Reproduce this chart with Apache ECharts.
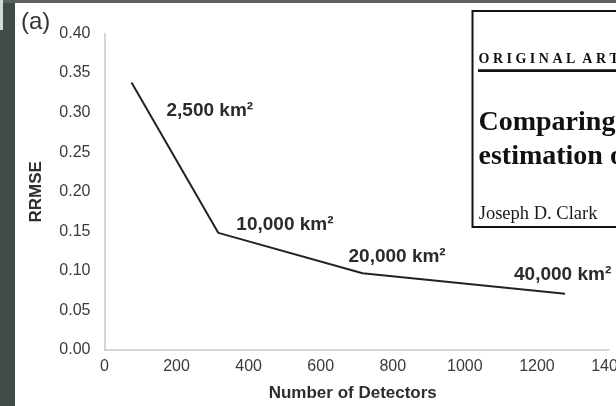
<!DOCTYPE html>
<html>
<head>
<meta charset="utf-8">
<script src="https://cdn.jsdelivr.net/npm/echarts@6/dist/echarts.min.js"></script>
<style>
  html, body { margin: 0; padding: 0; background: #ffffff; }
  #chart { width: 616px; height: 406px; }
</style>
</head>
<body>
<div id="chart"></div>
<script>
// Study-area sizes, detector counts and resulting RRMSE
const areaLabels = ['2,500 km²', '10,000 km²', '20,000 km²', '40,000 km²'];
const detectors = [75, 316, 716, 1278];
const rrmse = [0.338, 0.148, 0.097, 0.071];
const xTicks = [0, 200, 400, 600, 800, 1000, 1200, 1400];
const yTicks = [0, 0.05, 0.1, 0.15, 0.2, 0.25, 0.3, 0.35, 0.4];

// Where each area label sits relative to its point (px)
const labelOffsets = [[35, 28], [18, -8], [-14, -16], [-51, -19]];

const sansFont = '"Liberation Sans", Arial, sans-serif';
const serifFont = '"Liberation Serif", "Times New Roman", serif';

const linePoints = detectors.map((d, i) => [d, rrmse[i]]);
const labelPoints = detectors.map((d, i) => ({
  value: [d, rrmse[i]],
  name: areaLabels[i],
  label: { offset: labelOffsets[i] }
}));

const chart = echarts.init(document.getElementById('chart'), null, { renderer: 'canvas' });

chart.setOption({
  animation: false,
  backgroundColor: '#ffffff',
  grid: {
    left: 104.5, right: 7, top: 33.5, bottom: 56,
    containLabel: false,
    outerBoundsMode: 'none'
  },
  xAxis: {
    type: 'value',
    min: xTicks[0],
    max: xTicks[xTicks.length - 1],
    interval: xTicks[1] - xTicks[0],
    name: 'Number of Detectors',
    nameLocation: 'middle',
    nameGap: 35,
    nameTextStyle: {
      fontFamily: sansFont, fontSize: 17, fontWeight: 'bold', color: '#2e2e2e',
      padding: [0, 8, 0, 0]
    },
    axisLine: { show: true, lineStyle: { color: '#c9c9c9', width: 1.5 } },
    axisTick: { show: false },
    splitLine: { show: false },
    axisLabel: {
      margin: 9,
      fontFamily: sansFont, fontSize: 16, color: '#3a3a3a',
      showMaxLabel: true,
      hideOverlap: false,
      formatter: v => String(v)
    }
  },
  yAxis: {
    type: 'value',
    min: yTicks[0],
    max: yTicks[yTicks.length - 1],
    interval: yTicks[1] - yTicks[0],
    name: 'RRMSE',
    nameLocation: 'middle',
    nameRotate: 90,
    nameGap: 60,
    nameTextStyle: { fontFamily: sansFont, fontSize: 17, fontWeight: 'bold', color: '#2e2e2e' },
    axisLine: { show: true, lineStyle: { color: '#c9c9c9', width: 1.5 } },
    axisTick: { show: false },
    splitLine: { show: false },
    axisLabel: {
      margin: 14,
      fontFamily: sansFont, fontSize: 16, color: '#3a3a3a',
      formatter: v => v.toFixed(2)
    }
  },
  series: [
    {
      type: 'line',
      data: linePoints,
      symbol: 'none',
      lineStyle: { color: '#222222', width: 2 },
      z: 3
    },
    {
      type: 'scatter',
      data: labelPoints,
      symbolSize: 0,
      itemStyle: { color: '#222222' },
      label: {
        show: true,
        position: 'inside',
        align: 'left',
        verticalAlign: 'middle',
        formatter: p => p.name,
        fontFamily: sansFont,
        fontSize: 19,
        fontWeight: 'bold',
        color: '#2b2b2b',
        textBorderWidth: 0,
        opacity: 1
      },
      z: 4
    }
  ],
  graphic: [
    // dark surround
    { type: 'rect', shape: { x: 0, y: 0, width: 15, height: 406 }, style: { fill: '#3f4a49' }, z: 100 },
    { type: 'rect', shape: { x: 0, y: 0, width: 616, height: 3 }, style: { fill: '#59625f' }, z: 100 },
    { type: 'rect', shape: { x: 0, y: 0, width: 3, height: 30 }, style: { fill: '#d6d8d7' }, z: 101 },
    // "(a)" panel tag
    {
      type: 'text', x: 21, y: 22, z: 100,
      style: { text: '(a)', font: '24px ' + sansFont, fill: '#333333', textVerticalAlign: 'middle' }
    },
    // article header card
    {
      type: 'rect', z: 110,
      shape: { x: 472.5, y: 11, width: 160, height: 216 },
      style: { fill: '#ffffff', stroke: '#111111', lineWidth: 2 }
    },
    {
      type: 'text', x: 478.5, y: 59, z: 111,
      style: { text: 'O R I G I N A L  A R T I C L E', font: 'bold 14px ' + serifFont, fill: '#111111', textVerticalAlign: 'middle' }
    },
    {
      type: 'rect', z: 111,
      shape: { x: 478, y: 69.3, width: 140, height: 2.7 },
      style: { fill: '#111111' }
    },
    {
      type: 'text', x: 478.5, y: 109, z: 111,
      style: { text: 'Comparing', font: 'bold 28px ' + serifFont, fill: '#111111', textVerticalAlign: 'top' }
    },
    {
      type: 'text', x: 478.5, y: 143, z: 111,
      style: { text: 'estimation of', font: 'bold 28px ' + serifFont, fill: '#111111', textVerticalAlign: 'top' }
    },
    {
      type: 'text', x: 478.7, y: 205, z: 111,
      style: { text: 'Joseph D. Clark', font: '18.5px ' + serifFont, fill: '#1a1a1a', textVerticalAlign: 'top' }
    }
  ]
});
</script>
</body>
</html>
